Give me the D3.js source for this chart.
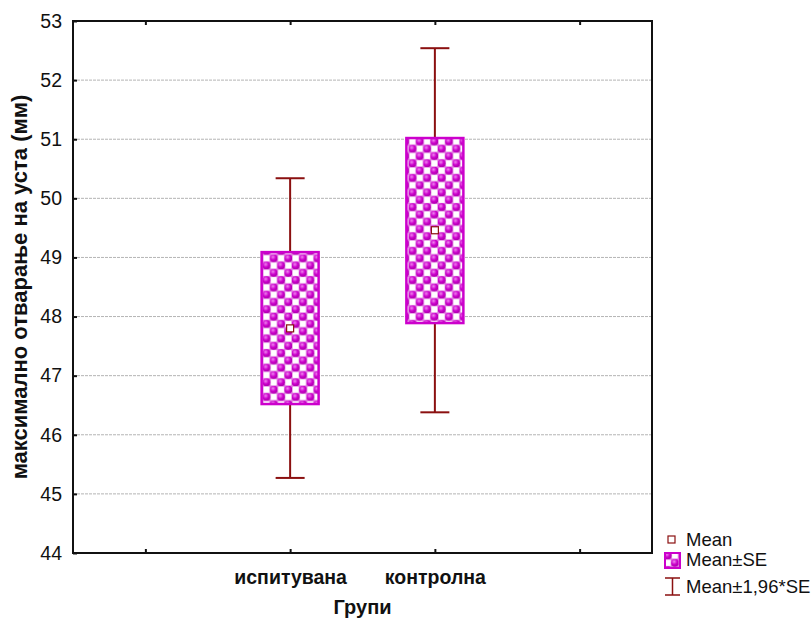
<!DOCTYPE html>
<html>
<head>
<meta charset="utf-8">
<script src="https://cdn.jsdelivr.net/npm/d3@7"></script>
<style>
  body { margin: 0; background: #fff; }
  text { font-family: "Liberation Sans", Arial, sans-serif; }
</style>
</head>
<body>
<script>
// Data
var groups = ["испитувана", "контролна"];
var groupPos = [1.5, 2.5];
var means = [47.80, 49.46];
var seLow = [46.52, 47.89];
var seHigh = [49.09, 51.02];
var ciLow = [45.27, 46.38];
var ciHigh = [50.34, 52.54];
var yTicks = [44, 45, 46, 47, 48, 49, 50, 51, 52, 53];
var xTicks = [0.5, 1.5, 2.5, 3.5];
var legendLabels = ["Mean", "Mean±SE", "Mean±1,96*SE"];

var svgWidth = 811;
var svgHeight = 618;
var margin = { top: 21, right: 159, bottom: 65, left: 73 };
var width = svgWidth - margin.left - margin.right;
var height = svgHeight - margin.top - margin.bottom;

var dark = "#8b1010";
var magenta = "#cc00cc";

var svg = d3.select("body")
  .append("svg")
  .attr("width", svgWidth)
  .attr("height", svgHeight);

// checkered ball pattern
var defs = svg.append("defs");
var grad = defs.append("radialGradient")
  .attr("id", "ball")
  .attr("cx", "40%").attr("cy", "35%").attr("r", "60%");
grad.append("stop").attr("offset", "0%").attr("stop-color", "#f08af0");
grad.append("stop").attr("offset", "60%").attr("stop-color", magenta);
grad.append("stop").attr("offset", "100%").attr("stop-color", "#b000b0");

var cell = 7.3;
var pat = defs.append("pattern")
  .attr("id", "checks")
  .attr("patternUnits", "userSpaceOnUse")
  .attr("width", cell * 2)
  .attr("height", cell * 2);
pat.append("rect").attr("width", cell * 2).attr("height", cell * 2).attr("fill", "#e070e0");
[[0, 0], [cell, cell]].forEach(function(p) {
  pat.append("rect")
    .attr("x", p[0] + 0.6).attr("y", p[1] + 0.6)
    .attr("width", cell - 1.2).attr("height", cell - 1.2)
    .attr("fill", "#fff");
});
[[cell, 0], [0, cell]].forEach(function(p) {
  pat.append("circle")
    .attr("cx", p[0] + cell / 2).attr("cy", p[1] + cell / 2)
    .attr("r", 3.9)
    .attr("fill", "url(#ball)");
});

var chartGroup = svg.append("g")
  .attr("transform", `translate(${margin.left}, ${margin.top})`);

var xScale = d3.scaleLinear().domain([0, 4]).range([0, width]);
var yScale = d3.scaleLinear().domain([44, 53]).range([height, 0]);

// grid lines
chartGroup.append("g")
  .selectAll("line")
  .data(yTicks.slice(1, -1))
  .enter()
  .append("line")
  .attr("x1", 0)
  .attr("x2", width)
  .attr("y1", d => yScale(d))
  .attr("y2", d => yScale(d))
  .attr("stroke", "#b4b4b4")
  .attr("stroke-width", 1)
  .attr("stroke-dasharray", "3,1");

// axes, ticks pointing inward
var leftAxis = d3.axisLeft(yScale).tickValues(yTicks).tickSize(-4).tickPadding(11);
var bottomAxis = d3.axisBottom(xScale).tickValues(xTicks).tickSize(-4)
  .tickFormat((d, i) => (i === 1 || i === 2) ? groups[i - 1] : "").tickPadding(17);
var topAxis = d3.axisTop(xScale).tickValues(xTicks).tickSize(-4).tickFormat("");

var yAxisG = chartGroup.append("g").call(leftAxis);
yAxisG.select(".domain").remove();
yAxisG.selectAll("text")
  .attr("font-size", "19.5px")
  .attr("font-family", "Liberation Sans, Arial, sans-serif")
  .attr("fill", "#111");

var xAxisG = chartGroup.append("g")
  .attr("transform", `translate(0, ${height})`)
  .call(bottomAxis);
xAxisG.select(".domain").remove();
xAxisG.selectAll("text")
  .attr("font-size", "19.5px")
  .attr("font-weight", "bold")
  .attr("font-family", "Liberation Sans, Arial, sans-serif")
  .attr("fill", "#111");

var topG = chartGroup.append("g").call(topAxis);
topG.select(".domain").remove();

chartGroup.selectAll(".tick line").attr("stroke", "#111").attr("stroke-width", 2);

// frame
chartGroup.append("rect")
  .attr("x", 0).attr("y", 0)
  .attr("width", width).attr("height", height)
  .attr("fill", "none")
  .attr("stroke", "#111")
  .attr("stroke-width", 2);

// whiskers
var whisk = chartGroup.append("g")
  .selectAll("g")
  .data(groups)
  .enter()
  .append("g");

whisk.append("line")
  .attr("x1", (d, i) => xScale(groupPos[i]))
  .attr("x2", (d, i) => xScale(groupPos[i]))
  .attr("y1", (d, i) => yScale(ciLow[i]))
  .attr("y2", (d, i) => yScale(ciHigh[i]))
  .attr("stroke", dark)
  .attr("stroke-width", 2);

[ciLow, ciHigh].forEach(function(arr) {
  whisk.append("line")
    .attr("x1", (d, i) => xScale(groupPos[i]) - 14.5)
    .attr("x2", (d, i) => xScale(groupPos[i]) + 14.5)
    .attr("y1", (d, i) => yScale(arr[i]))
    .attr("y2", (d, i) => yScale(arr[i]))
    .attr("stroke", dark)
    .attr("stroke-width", 2);
});

// SE boxes
var boxW = 57;
whisk.append("rect")
  .attr("x", (d, i) => xScale(groupPos[i]) - boxW / 2)
  .attr("y", (d, i) => yScale(seHigh[i]))
  .attr("width", boxW)
  .attr("height", (d, i) => yScale(seLow[i]) - yScale(seHigh[i]))
  .attr("fill", "url(#checks)")
  .attr("stroke", magenta)
  .attr("stroke-width", 2.5);

// mean markers
whisk.append("rect")
  .attr("x", (d, i) => xScale(groupPos[i]) - 3.5)
  .attr("y", (d, i) => yScale(means[i]) - 3.5)
  .attr("width", 7)
  .attr("height", 7)
  .attr("fill", "#fff")
  .attr("stroke", dark)
  .attr("stroke-width", 1.2);

// axis titles
svg.append("text")
  .attr("x", margin.left + width / 2)
  .attr("y", 614)
  .attr("text-anchor", "middle")
  .attr("font-size", "20px")
  .attr("font-weight", "bold")
  .attr("fill", "#111")
  .text("Групи");

svg.append("text")
  .attr("transform", "rotate(-90)")
  .attr("x", 0 - 287)
  .attr("y", 27)
  .attr("text-anchor", "middle")
  .attr("font-size", "22px")
  .attr("font-weight", "bold")
  .attr("fill", "#111")
  .text("максимално отварање на уста (мм)");

// legend
var legend = svg.append("g").attr("transform", "translate(664, 530)");
var rowY = [10, 30, 57];

legend.append("rect")
  .attr("x", 4).attr("y", rowY[0] - 4)
  .attr("width", 7).attr("height", 7)
  .attr("fill", "#fff")
  .attr("stroke", dark)
  .attr("stroke-width", 1.2);

legend.append("rect")
  .attr("x", 1).attr("y", rowY[1] - 7)
  .attr("width", 15).attr("height", 15)
  .attr("fill", "url(#checks)")
  .attr("stroke", magenta)
  .attr("stroke-width", 2);

legend.append("path")
  .attr("d", `M1,${rowY[2] - 9}H16M8.5,${rowY[2] - 9}V${rowY[2] + 8}M1,${rowY[2] + 8}H16`)
  .attr("fill", "none")
  .attr("stroke", dark)
  .attr("stroke-width", 1.5);

legend.selectAll("text.lg")
  .data(legendLabels)
  .enter()
  .append("text")
  .attr("class", "lg")
  .attr("x", 22)
  .attr("y", (d, i) => rowY[i] + 6)
  .attr("font-size", "18.5px")
  .attr("fill", "#111")
  .text(d => d);
</script>
</body>
</html>
